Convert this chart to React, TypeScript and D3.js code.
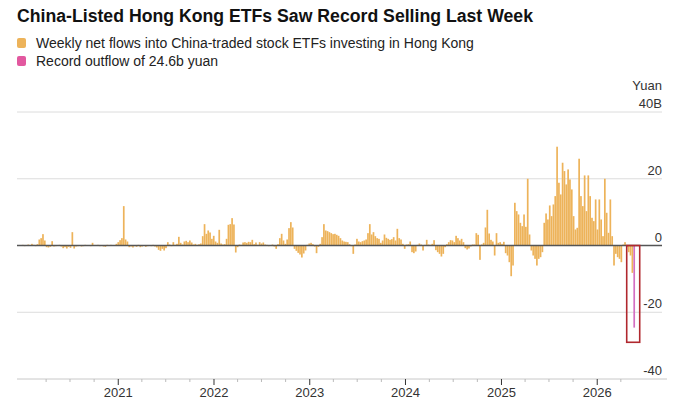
import React from 'react';
import * as d3 from 'd3';

// weekly net flows, billion yuan, oldest first; last entry is the record week
const weeklyFlows: number[] = [
  0.2, -0.2, 0.1, 0.3, -0.1, 0.5, 0.2, -0.2, 0.4, 1.8,
  2.2, 3.4, 1.5, -0.5, -0.6, -0.4, 1.3, -0.3, -0.2, 0.1,
  0.2, -0.3, -0.8, -0.5, -0.9, -0.4, -0.7, 4.0, -0.9, -0.3,
  -0.2, 0.1, -0.3, -0.2, 0.2, -0.1, 0.1, -0.2, 0.8, 0.1,
  -0.1, 0.2, -0.2, 0.1, -0.3, -0.4, 0.2, -0.1, 0.2, -0.1,
  0.1, 0.5, 1.0, 1.6, 2.2, 11.8, 1.8, 1.2, -0.5, -0.3,
  -0.6, -0.2, -0.4, 0.2, -0.5, -0.3, 0.1, -0.4, -0.2, 0.1,
  -0.2, 0.2, -0.3, -0.6, -1.3, -1.6, -1.0, -1.5, -0.8, 1.0,
  0.3, -0.2, 1.0, 0.2, 0.5, 2.6, 0.8, 0.3, 1.2, 1.4,
  1.0, 1.5, 0.9, 0.3, 0.5, 0.2, 0.4, 0.6, 2.8, 6.4,
  3.5, 4.5, 3.9, 2.0, 2.9, 1.2, 0.8, 4.7, 0.6, 0.3,
  0.4, 2.0, 6.2, 6.4, 8.2, 6.3, -2.1, -0.5, 0.3, 0.2,
  0.9, 1.0, 0.8, 1.1, 1.0, 1.7, 0.4, 0.9, 0.2, 1.0,
  0.6, 0.9, 0.3, 0.2, -0.2, 0.1, 0.3, -0.3, -1.0, 0.4,
  2.2, 3.5, 1.5, 0.5, 1.8, 5.2, 7.0, 5.4, -1.0, -1.6,
  -2.2, -2.7, -3.6, -2.4, -1.5, 0.2, 0.6, 0.8, 0.4, -0.3,
  -2.3, -0.4, 0.5, 2.5, 6.4, 4.5, 4.3, 4.0, 3.7, 3.4,
  3.5, 3.2, 2.9, 2.2, 1.5, 1.2, 1.1, 1.0, 0.4, -0.2,
  -2.5, 0.3, 2.0, 1.2, 1.0, 1.3, 1.5, 1.8, 3.7, 6.4,
  3.3, 4.0, 2.8, 2.2, 2.0, 0.8, 1.5, 3.3, 2.3, 2.0,
  1.7, 1.9, 2.5, 1.5, 5.0, 2.2, 1.8, 0.5, -1.0, 0.3,
  0.4, 1.2, -2.0, -2.3, -1.8, 0.2, 0.6, 0.3, -1.5, 0.2,
  1.7, 0.3, 0.2, 0.5, 1.6, -1.4, -2.0, -2.5, -3.3, -2.5,
  -0.5, 0.4, 1.0, 1.6, 1.5, 1.0, 2.9, 2.2, 1.5, 2.0,
  1.0, -0.8, -1.2, -0.9, -0.3, 0.3, 0.3, 3.7, 3.2, -4.3,
  0.3, 0.8, 5.4, 10.7, 3.6, 1.7, 1.2, -3.0, 3.7, 0.8,
  1.0, 0.5, 1.1, -2.3, -3.0, -5.0, -9.2, -6.0, 12.8, 10.3,
  9.3, 6.8, 5.8, 9.3, 5.6, 20.0, 3.3, -1.5, -3.0, -4.0,
  -6.0, -4.0, -3.5, -2.0, 6.8, 9.6, 7.8, 12.0, 8.8, 12.3,
  14.8, 29.6, 18.8, 15.3, 24.8, 22.3, 18.3, 22.8, 19.8, 16.8,
  8.8, 4.8, 5.3, 26.0, 14.8, 11.8, 21.0, 10.3, 21.0, 14.8,
  8.3, 7.3, 13.8, 4.8, 13.8, 7.8, 2.8, 20.0, 9.8, 3.8,
  13.8, 2.8, -6.0, -2.5, -3.5, -4.0, -5.0, 0.3, 1.0, -0.5,
  -2.0, -3.0, -8.2, -24.6,
];
const lastWeek = new Date(2026, 4, 22);
const yTicks = [-40, -20, 0, 20, 40];
const yearTicks = [2021, 2022, 2023, 2024, 2025, 2026];
const legendItems = [
  { label: 'Weekly net flows into China-traded stock ETFs investing in Hong Kong', color: '#EDB35A' },
  { label: 'Record outflow of 24.6b yuan', color: '#E2589F' },
];

const W = 680;
const H = 410;
const FONT = '"Liberation Sans", Arial, sans-serif';

export default function App() {
  const n = weeklyFlows.length;
  const dates = weeklyFlows.map((_, i) => d3.timeWeek.offset(lastWeek, i - (n - 1)));

  const x = d3.scaleTime()
    .domain([new Date(2019, 11, 12), new Date(2026, 8, 24)])
    .range([17, 667]);
  const y = d3.scaleLinear().domain([-40, 40]).range([379, 112]);

  const quarterTicks = d3.timeMonth.every(3)!
    .range(new Date(2020, 2, 1), lastWeek)
    .filter(d => d.getMonth() !== 0);

  const lastX = x(lastWeek);

  return (
    <svg width={W} height={H} style={{ position: 'absolute', left: 0, top: 0, background: '#fff' }} fontFamily={FONT}>
      <text x={17} y={22} fontSize={18} fontWeight="bold" fill="#111" textLength={516} lengthAdjust="spacingAndGlyphs">
        China-Listed Hong Kong ETFs Saw Record Selling Last Week
      </text>

      {legendItems.map((d, i) => (
        <g key={d.label} transform={`translate(17,${38 + i * 18})`}>
          <rect width={9} height={10} rx={2} fill={d.color} />
          <text x={19} y={9.5} fontSize={14} fill="#222">{d.label}</text>
        </g>
      ))}

      {/* gridlines */}
      {yTicks.filter(t => t !== 0 && t !== -40).map(t => (
        <line key={t} x1={17} x2={662} y1={y(t)} y2={y(t)} stroke="#dcdcdc" strokeWidth={1} />
      ))}
      <line x1={17} x2={667} y1={y(-40)} y2={y(-40)} stroke="#c8c8c8" strokeWidth={1} />

      {/* y labels */}
      <text x={662} y={90} fontSize={13} textAnchor="end" fill="#333">Yuan</text>
      {yTicks.map(t => (
        <text key={t} x={662} y={y(t) - 4} fontSize={13} textAnchor="end" fill="#333">
          {t === 40 ? '40B' : t}
        </text>
      ))}

      {/* bars */}
      {weeklyFlows.map((v, i) => {
        const isLast = i === n - 1;
        const y0 = y(Math.max(0, v));
        const h = Math.abs(y(v) - y(0));
        return (
          <rect key={i} x={x(dates[i]) - 0.85} y={y0} width={1.7} height={Math.max(h, 0.5)}
            fill={isLast ? '#D36FC3' : '#EDB35A'} />
        );
      })}

      {/* zero line */}
      <line x1={17} x2={662} y1={y(0)} y2={y(0)} stroke="#555" strokeWidth={1.4} />

      {/* highlight box */}
      <rect x={lastX - 7.5} y={y(0)} width={13} height={y(-29) - y(0)} fill="none" stroke="#B0282E" strokeWidth={1.6} />

      {/* x axis ticks */}
      {quarterTicks.map(d => (
        <line key={d.getTime()} x1={x(d)} x2={x(d)} y1={y(-40)} y2={y(-40) + 3} stroke="#bbb" />
      ))}
      {yearTicks.map(yr => {
        const d = new Date(yr, 0, 1);
        return (
          <g key={yr}>
            <line x1={x(d)} x2={x(d)} y1={y(-40)} y2={y(-40) + 6} stroke="#333" strokeWidth={1} />
            <text x={x(d)} y={397} fontSize={13} textAnchor="middle" fill="#333">{yr}</text>
          </g>
        );
      })}
    </svg>
  );
}
